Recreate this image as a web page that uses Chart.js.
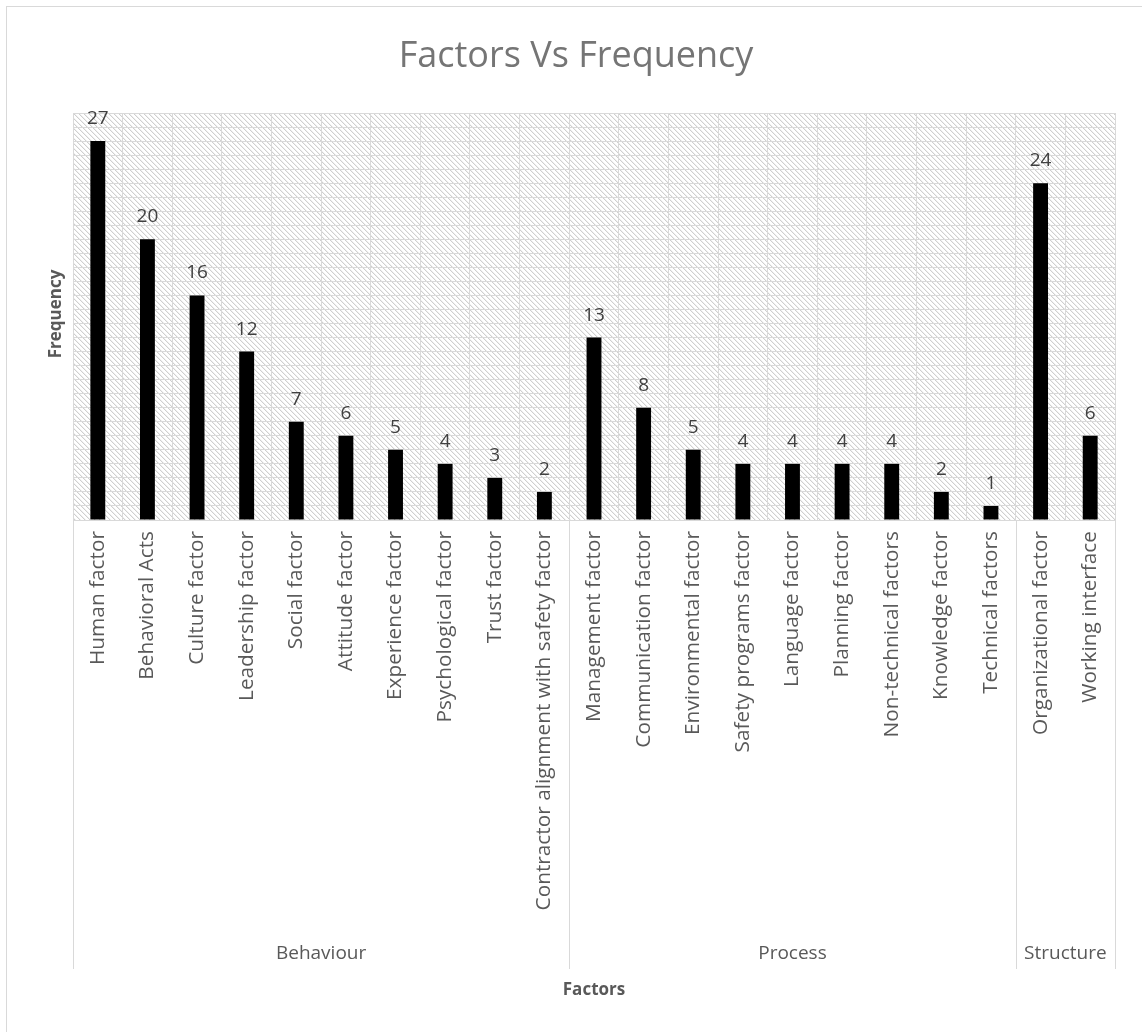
<!DOCTYPE html>
<html>
<head>
<meta charset="utf-8">
<script src="https://cdn.jsdelivr.net/npm/chart.js@4.4.0/dist/chart.umd.min.js"></script>
<style>
html,body{margin:0;padding:0;background:#fff;}
canvas{display:block;}
</style>
</head>
<body>
<canvas id="c" width="1142" height="1032"></canvas>
<script>
const categories = ['Human factor','Behavioral Acts','Culture factor','Leadership factor','Social factor','Attitude factor','Experience factor','Psychological factor','Trust factor','Contractor alignment with safety factor','Management factor','Communication factor','Environmental factor','Safety programs factor','Language factor','Planning factor','Non-technical factors','Knowledge factor','Technical factors','Organizational factor','Working interface'];
const frequency = [27,20,16,12,7,6,5,4,3,2,13,8,5,4,4,4,4,2,1,24,6];
const groupNames = ['Behaviour','Process','Structure'];
const groupSizes = [10,9,2];
const chartTitle = 'Factors Vs Frequency';
const xTitle = 'Factors';
const yTitle = 'Frequency';

const FONT = "'Open Sans', 'DejaVu Sans', sans-serif";
const GRID = '#d9d9d9';

function makeHatch(){
  const t = document.createElement('canvas');
  t.width = 5; t.height = 5;
  const g = t.getContext('2d');
  g.fillStyle = '#ffffff'; g.fillRect(0,0,5,5);
  for (let y=0;y<5;y++){
    for (let x=0;x<5;x++){
      const d = ((x - y) % 5 + 5) % 5;
      if (d === 0){ g.fillStyle = '#cfcfcf'; g.fillRect(x,y,1,1); }
      else if (d === 1){ g.fillStyle = '#f0f0f0'; g.fillRect(x,y,1,1); }
    }
  }
  return t;
}

const decor = {
  id: 'decor',
  beforeDraw(chart){
    const ctx = chart.ctx, a = chart.chartArea;
    ctx.save();
    ctx.fillStyle = '#fff';
    ctx.fillRect(0,0,chart.width,chart.height);
    ctx.strokeStyle = GRID; ctx.lineWidth = 1;
    ctx.strokeRect(6.5,6.5,chart.width+20,chart.height+20);
    ctx.fillStyle = ctx.createPattern(makeHatch(),'repeat');
    ctx.fillRect(a.left,a.top,a.right-a.left,a.bottom-a.top);
    ctx.restore();
  },
  afterDraw(chart){
    const ctx = chart.ctx, a = chart.chartArea, xs = chart.scales.x;
    ctx.save();
    const meta = chart.getDatasetMeta(0);
    ctx.fillStyle = '#404040';
    ctx.font = '19px ' + FONT;
    ctx.textAlign = 'center';
    ctx.textBaseline = 'alphabetic';
    meta.data.forEach((bar,i)=>{
      ctx.fillText(String(frequency[i]), bar.x, bar.y - 17);
    });
    const half = (xs.getPixelForTick(1) - xs.getPixelForTick(0))/2;
    let idx = 0;
    const bounds = [xs.getPixelForTick(0) - half];
    groupSizes.forEach(n=>{ idx += n; bounds.push(xs.getPixelForTick(idx-1) + half); });
    ctx.strokeStyle = GRID; ctx.lineWidth = 1;
    bounds.forEach(b=>{
      const x = Math.round(b) + 0.5;
      ctx.beginPath(); ctx.moveTo(x,a.bottom); ctx.lineTo(x,969); ctx.stroke();
    });
    ctx.fillStyle = '#595959';
    ctx.font = '19px ' + FONT;
    ctx.textBaseline = 'middle';
    groupNames.forEach((g,i)=>{
      ctx.fillText(g,(bounds[i]+bounds[i+1])/2,954);
    });
    ctx.fillStyle = '#757575';
    ctx.font = '36px ' + FONT;
    ctx.fillText(chartTitle, 576, 57);
    ctx.fillStyle = '#595959';
    ctx.font = 'bold 17px ' + FONT;
    ctx.fillText(xTitle, 594, 990);
    ctx.translate(56,314);
    ctx.rotate(-Math.PI/2);
    ctx.fillText(yTitle, 0, 0);
    ctx.restore();
  }
};

new Chart(document.getElementById('c'), {
  type: 'bar',
  data: {
    labels: categories,
    datasets: [{
      data: frequency,
      backgroundColor: '#000000',
      borderWidth: 0,
      barPercentage: 0.3,
      categoryPercentage: 1.0
    }]
  },
  options: {
    responsive: false,
    animation: false,
    devicePixelRatio: 1,
    layout: { padding: { top: 113, right: 27, left: 0, bottom: 0 } },
    plugins: { legend: { display: false }, title: { display: false }, tooltip: { enabled: false } },
    scales: {
      x: {
        grid: { color: GRID, drawTicks: false, offset: true },
        border: { color: GRID },
        ticks: { autoSkip: false, minRotation: 90, maxRotation: 90, padding: 11, color: '#595959', font: { family: FONT, size: 20.8 } },
        afterFit(s){ s.height = 512; }
      },
      y: {
        min: 0, max: 29,
        grid: { color: GRID, drawTicks: false },
        border: { display: false },
        ticks: { display: false, stepSize: 1 },
        afterFit(s){ s.width = 73; }
      }
    }
  },
  plugins: [decor]
});
</script>
</body>
</html>
